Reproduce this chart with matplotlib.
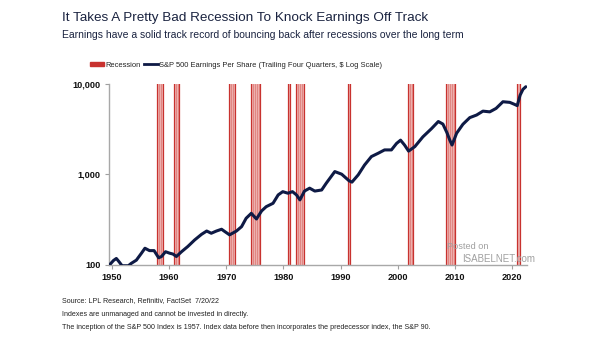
import matplotlib.pyplot as plt
from matplotlib.lines import Line2D
from matplotlib.patches import Patch

plt.rcParams['font.family'] = ['Liberation Sans', 'DejaVu Sans']

# S&P 500 EPS (trailing four quarters, index-scaled)
years = [1949.6, 1950.3, 1950.8, 1951.3, 1951.8, 1952.9, 1953.4, 1954.3, 1955.2, 1955.8,
         1956.6, 1957.4, 1958.2, 1958.7, 1959.4, 1960.1, 1960.7, 1961.3, 1962.2, 1963.3,
         1964.5, 1965.7, 1966.6, 1967.4, 1968.3, 1969.2, 1969.8, 1970.6, 1971.8, 1972.7,
         1973.5, 1974.4, 1975.3, 1976.2, 1977.0, 1978.2, 1979.1, 1979.9, 1980.8, 1981.6,
         1982.3, 1982.9, 1983.7, 1984.6, 1985.5, 1986.7, 1987.5, 1989.0, 1990.2, 1991.5,
         1992.0, 1993.1, 1994.2, 1995.4, 1996.6, 1997.7, 1998.9, 1999.8, 2000.5, 2001.2,
         2001.9, 2003.0, 2004.4, 2005.9, 2007.1, 2007.9, 2008.6, 2009.1, 2009.5, 2010.3,
         2011.4, 2012.6, 2013.8, 2014.9, 2016.1, 2017.2, 2018.4, 2019.6, 2020.4, 2020.9,
         2021.4, 2021.9, 2022.4]
eps = [100, 112, 118, 108, 98, 98, 104, 113, 135, 153,
       144, 144, 120, 124, 140, 135, 132, 124, 140, 160,
       189, 218, 237, 224, 237, 248, 233, 215, 237, 265,
       328, 372, 322, 395, 440, 480, 594, 645, 620, 645,
       594, 523, 655, 705, 655, 673, 799, 1075, 1006, 850,
       822, 990, 1270, 1575, 1715, 1865, 1865, 2200, 2390, 2110,
       1810, 2030, 2600, 3200, 3840, 3600, 2900, 2400, 2110, 2850,
       3580, 4240, 4530, 5000, 4910, 5360, 6350, 6250, 5950, 5750,
       7500, 8700, 9300]

# recession shading (start, end), as positioned on the chart
rec_start = [1957.9, 1960.8, 1970.45, 1974.3, 1980.8, 1982.2, 1991.3, 2001.8, 2008.5, 2020.9]
rec_end = [1959.0, 1961.8, 1971.6, 1975.9, 1981.2, 1983.6, 1991.7, 2002.7, 2010.1, 2021.3]

navy = '#0E1A45'
red = '#C8322F'
pink = '#EDB0AE'

fig = plt.figure(figsize=(6.05, 3.41), dpi=100)
ax = fig.add_axes([0.180, 0.223, 0.691, 0.531])

for s, e in zip(rec_start, rec_end):
    ax.axvspan(s, e, color=pink, lw=0, zorder=1)
    ax.axvline(s, color=red, lw=0.9, zorder=2)
    ax.axvline(e, color=red, lw=0.9, zorder=2)
    # inner stripes
    t = s + 0.35
    while t < e - 0.2:
        ax.axvline(t, color='#DD7470', lw=0.5, zorder=2)
        t += 0.35

ax.plot(years, eps, color=navy, lw=2.2, zorder=3, solid_capstyle='round')

ax.set_yscale('log')
ax.set_ylim(100, 10000)
ax.set_xlim(1949.5, 2022.6)
ax.set_yticks([100, 1000, 10000])
ax.set_yticklabels(['100', '1,000', '10,000'])
ax.minorticks_off()
ax.set_xticks([1950, 1960, 1970, 1980, 1990, 2000, 2010, 2020])
ax.tick_params(axis='both', labelsize=6.6, colors='#A0A0A0', length=3, width=0.8,
               labelcolor='#111111')
for lab in ax.get_xticklabels() + ax.get_yticklabels():
    lab.set_fontweight('bold')
ax.tick_params(axis='x', pad=2.5)
ax.tick_params(axis='y', pad=3)

for side in ['top', 'right']:
    ax.spines[side].set_visible(False)
for side in ['left', 'bottom']:
    ax.spines[side].set_color('#A8A8A8')
    ax.spines[side].set_linewidth(1.0)

# watermark
ax.text(0.808, 0.10, 'Posted on', transform=ax.transAxes, fontsize=6.6,
        color='#A0A0A0', va='center', zorder=5)
ax.text(0.845, 0.035, 'ISABELNET.com', transform=ax.transAxes, fontsize=7.0,
        color='#A0A0A0', va='center', zorder=5)

# legend
handles = [Patch(color=red, label='Recession'),
           Line2D([0], [0], color=navy, lw=2, label='S&P 500 Earnings Per Share (Trailing Four Quarters, $ Log Scale)')]
fig.legend(handles=handles, loc='center left', bbox_to_anchor=(0.137, 0.809), ncol=2,
           frameon=False, fontsize=5.4, handlelength=1.9, handleheight=0.6,
           handletextpad=0.15, columnspacing=0.5, labelcolor='#222222')

# titles
fig.text(0.102, 0.947, 'It Takes A Pretty Bad Recession To Knock Earnings Off Track',
         fontsize=9.7, color='#1A2340', va='center')
fig.text(0.102, 0.897, 'Earnings have a solid track record of bouncing back after recessions over the long term',
         fontsize=7.45, color='#1A2340', va='center')

# footnotes
notes = ['Source: LPL Research, Refinitiv, FactSet  7/20/22',
         'Indexes are unmanaged and cannot be invested in directly.',
         'The inception of the S&P 500 Index is 1957. Index data before then incorporates the predecessor index, the S&P 90.']
for i, n in enumerate(notes):
    fig.text(0.102, 0.118 - i * 0.039, n, fontsize=5.15, color='#222222', va='center')

fig.savefig('out.png', dpi=100)
